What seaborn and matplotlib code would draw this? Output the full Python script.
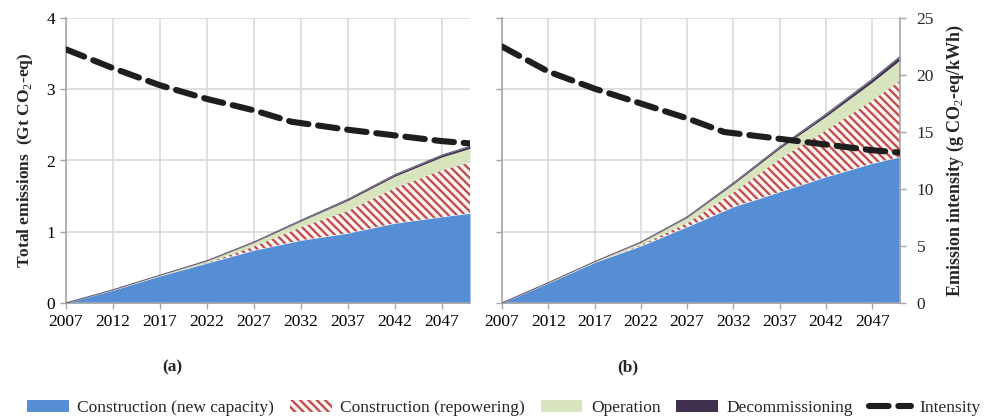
import numpy as np
import pandas as pd
import matplotlib
matplotlib.use("Agg")
import matplotlib.pyplot as plt
import seaborn as sns
from matplotlib.patches import Patch
from matplotlib.lines import Line2D

# Values (Gt CO2-eq per year, stacked layers)
years = [2007, 2012, 2017, 2022, 2027, 2032, 2037, 2042, 2047, 2050]

# panel (a)
a_new = [0, 0.18, 0.38, 0.56, 0.74, 0.88, 0.98, 1.12, 1.21, 1.26]
a_repower = [0, 0, 0, 0.01, 0.06, 0.19, 0.32, 0.50, 0.66, 0.72]
a_operation = [0, 0.005, 0.01, 0.02, 0.05, 0.08, 0.14, 0.16, 0.18, 0.19]
a_decom = [0, 0, 0, 0.003, 0.006, 0.01, 0.015, 0.02, 0.025, 0.03]

# panel (b)
b_new = [0, 0.28, 0.57, 0.80, 1.07, 1.35, 1.56, 1.77, 1.96, 2.05]
b_repower = [0, 0, 0, 0.02, 0.06, 0.21, 0.47, 0.66, 0.89, 1.08]
b_operation = [0, 0.005, 0.01, 0.03, 0.07, 0.11, 0.14, 0.19, 0.25, 0.28]
b_decom = [0, 0, 0, 0.004, 0.008, 0.015, 0.02, 0.03, 0.04, 0.05]

# emission intensity (g CO2-eq/kWh)
int_years = [2007, 2012, 2017, 2022, 2027, 2031, 2037, 2042, 2047, 2050]
a_intensity = [22.25, 20.6, 19.1, 17.9, 16.9, 15.9, 15.2, 14.7, 14.2, 14.0]
b_intensity = [22.5, 20.3, 18.8, 17.5, 16.2, 15.0, 14.4, 13.9, 13.4, 13.2]

labels = ["Construction (new capacity)", "Construction (repowering)",
          "Operation", "Decommissioning", "Intensity"]
xticks = list(range(2007, 2048, 5))

BLUE = "#558ED5"
RED = "#C0504D"
GREEN = "#D7E4BD"
DARK = "#403151"
GRID = "#D9D9D9"
SPINE = "#A6A6A6"
HATCH = "\\\\\\\\"

sns.set_theme(style="whitegrid")
plt.rcParams["font.family"] = ["Liberation Serif", "DejaVu Serif"]
plt.rcParams["mathtext.fontset"] = "custom"
plt.rcParams["mathtext.rm"] = "Liberation Serif"
plt.rcParams["mathtext.bf"] = "Liberation Serif:bold"
plt.rcParams["hatch.linewidth"] = 1.7

fig = plt.figure(figsize=(9.84, 4.19), dpi=100)
ax_a = fig.add_axes([66 / 984, 116 / 419, 404 / 984, 285 / 419])
ax_b = fig.add_axes([502 / 984, 116 / 419, 398 / 984, 285 / 419])


def draw_panel(ax, new, rep, op, dec, inten, show_left, show_right):
    df = pd.DataFrame({"year": years, "new": new, "rep": rep, "op": op, "dec": dec})
    s1 = df["new"]
    s2 = s1 + df["rep"]
    s3 = s2 + df["op"]
    s4 = s3 + df["dec"]
    ax.fill_between(df["year"], 0, s1, color=BLUE, lw=0, zorder=2)
    ax.fill_between(df["year"], s1, s2, facecolor="#FDF5F4", edgecolor=RED,
                    hatch=HATCH, lw=0, zorder=2)
    ax.fill_between(df["year"], s2, s3, color=GREEN, lw=0, zorder=2)
    ax.fill_between(df["year"], s3, s4, color=DARK, lw=0, zorder=2)
    ax.plot(df["year"], s4, color=DARK, lw=0.8, alpha=0.8, zorder=3)

    ax.set_xlim(2007, 2050)
    ax.set_ylim(0, 4)
    ax.set_xticks(xticks)
    ax.set_yticks([0, 1, 2, 3, 4])
    ax.grid(True, color=GRID, lw=1.2)
    ax.set_axisbelow(True)
    for side in ["top", "right"]:
        ax.spines[side].set_visible(False)
    for side in ["left", "bottom"]:
        ax.spines[side].set_color(SPINE)
        ax.spines[side].set_linewidth(1.2)
    ax.tick_params(axis="both", direction="out", length=4, width=1, color=SPINE,
                   labelsize=12.5, pad=4, labelcolor="black")
    ax.tick_params(axis="x", bottom=True)
    ax.tick_params(axis="y", left=True, labelleft=show_left)
    if show_left:
        ax.set_ylabel("Total emissions  (Gt CO$_2$-eq)", fontsize=12.5,
                      fontweight="bold", labelpad=8)

    ax2 = ax.twinx()
    dfi = pd.DataFrame({"year": int_years, "intensity": inten})
    sns.lineplot(data=dfi, x="year", y="intensity", ax=ax2, color="#1E1E1E",
                 lw=4.4, dashes=False, zorder=5)
    ax2.lines[0].set_dashes((3.2, 1.6))
    ax2.lines[0].set_dash_capstyle("round")
    ax2.set_ylim(0, 25)
    ax2.set_xlim(2007, 2050)
    ax2.grid(False)
    ax2.set_xlabel("")
    for side in ["top", "left", "bottom"]:
        ax2.spines[side].set_visible(False)
    if show_right:
        ax2.spines["right"].set_color(SPINE)
        ax2.spines["right"].set_linewidth(1.2)
        ax2.set_yticks([0, 5, 10, 15, 20, 25])
        ax2.tick_params(axis="y", direction="out", length=4, width=1, color=SPINE,
                        labelsize=12.5, pad=8, right=True)
        ax2.set_ylabel("Emission intensity (g CO$_2$-eq/kWh)", fontsize=13,
                       fontweight="bold", labelpad=8)
    else:
        ax2.spines["right"].set_visible(False)
        ax2.set_yticks([])
        ax2.set_ylabel("")
    return ax2


draw_panel(ax_a, a_new, a_repower, a_operation, a_decom, a_intensity, True, False)
draw_panel(ax_b, b_new, b_repower, b_operation, b_decom, b_intensity, False, True)

fig.text(172 / 984, 1 - 367 / 419, "(a)", ha="center", va="center",
         fontsize=12.5, fontweight="bold")
fig.text(628 / 984, 1 - 367 / 419, "(b)", ha="center", va="center",
         fontsize=12.5, fontweight="bold")

handles = [
    Patch(facecolor=BLUE, edgecolor=BLUE, lw=0),
    Patch(facecolor="#FDF5F4", edgecolor=RED, hatch=HATCH, lw=0),
    Patch(facecolor=GREEN, edgecolor=GREEN, lw=0),
    Patch(facecolor=DARK, edgecolor=DARK, lw=0),
    Line2D([0], [0], color="#1E1E1E", lw=4.4, dashes=(3.2, 1.6),
           dash_capstyle="round"),
]
fig.legend(handles, labels, loc="center", bbox_to_anchor=(0.512, 11 / 419),
           ncol=5, frameon=False, fontsize=12.5, handlelength=2.4,
           handleheight=0.7, handletextpad=0.5, columnspacing=0.9)

fig.savefig("out.png", dpi=100)
